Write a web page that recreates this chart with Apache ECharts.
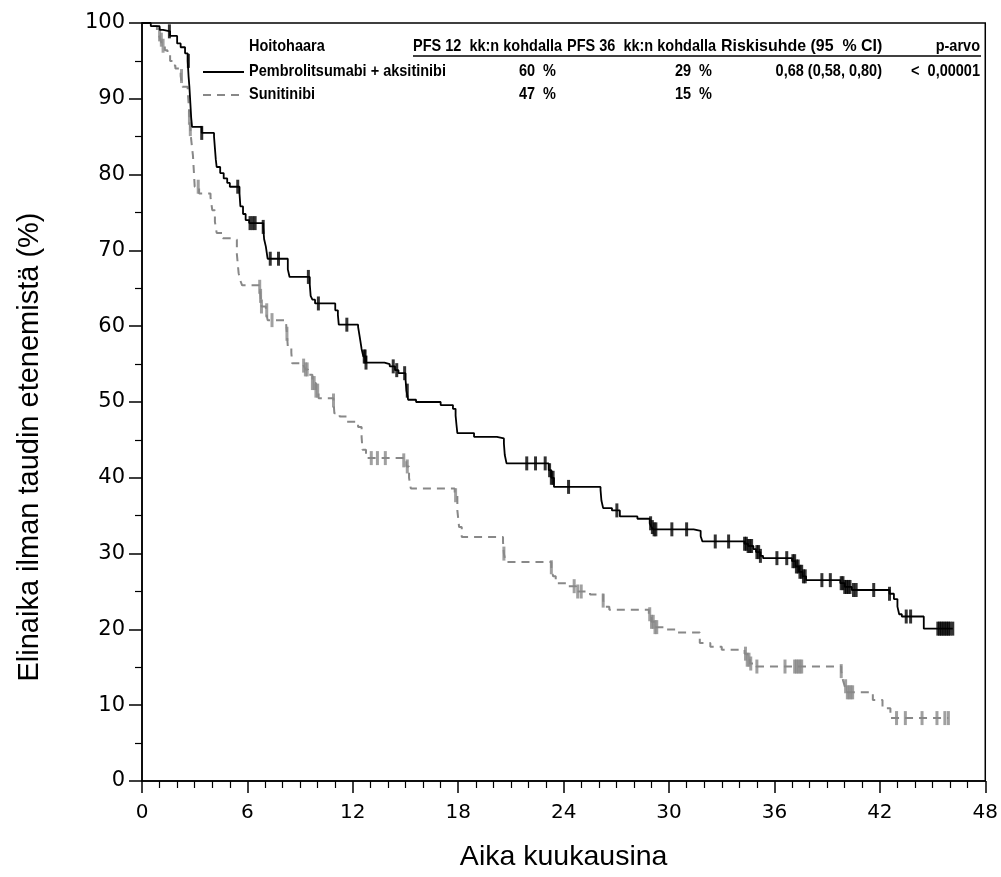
<!DOCTYPE html>
<html><head><meta charset="utf-8">
<script src="https://cdn.jsdelivr.net/npm/echarts@6/dist/echarts.min.js"></script>
<style>html,body{margin:0;padding:0;background:#fff}#c{width:1001px;height:877px}</style>
</head><body><div id="c"></div>
<script>
// ---- data ----
const xTickLabels = [0, 6, 12, 18, 24, 30, 36, 42, 48];
const yTickLabels = [0, 10, 20, 30, 40, 50, 60, 70, 80, 90, 100];

const pembroTimes = [0,0.5,1.0,1.2,1.6,2.0,2.2,2.45,2.6,2.65,2.7,2.75,2.8,2.85,3.4,4.1,4.15,4.2,4.25,4.45,4.65,4.85,5.0,5.55,5.6,5.75,5.9,6.1,6.9,6.95,7.05,7.15,8.3,8.4,9.55,9.6,9.7,9.85,11.0,11.15,11.2,12.3,12.4,12.5,12.6,12.75,13.8,14.1,14.4,14.6,15.0,15.05,15.15,15.6,17.0,17.7,17.85,17.9,17.95,18.9,20.2,20.6,20.65,20.75,23.15,23.3,23.45,26.1,26.15,26.25,26.75,27.2,28.2,28.9,29.0,29.1,31.4,31.8,31.9,34.3,34.5,34.8,34.95,35.2,35.35,37.0,37.2,37.4,37.6,37.8,39.75,40.0,40.4,42.55,42.8,43.0,43.1,43.25,44.5];
const pembroSurv  = [100,99.6,99.1,98.9,98.3,97.3,96.8,96.0,95.0,93.0,91.5,89.5,87.5,86.3,85.5,85.0,83.5,82.0,81.0,80.2,79.5,78.9,78.4,77.5,75.8,74.8,74.0,73.6,73.1,71.5,70.5,68.9,67.5,66.5,65.5,64.0,63.5,63.0,62.1,61.5,60.2,59.9,58.5,57.0,56.0,55.2,55.0,54.7,54.2,53.8,53.0,51.5,50.3,50.0,49.6,49.1,48.2,47.0,45.9,45.4,45.2,44.5,43.0,41.9,41.0,40.0,38.8,38.4,37.0,36.0,35.7,34.9,34.6,34.0,33.5,33.2,33.0,32.3,31.6,31.3,31.0,30.6,30.2,29.7,29.4,29.0,28.3,27.6,27.0,26.5,26.1,25.6,25.2,24.7,24.0,23.0,22.0,21.7,20.1];
const pembroCensor = [1.56,2.64,3.4,5.45,6.15,6.3,6.44,6.9,7.3,7.77,9.47,10.04,11.66,12.65,12.7,12.75,14.3,14.5,14.95,15.1,21.9,22.4,22.95,23.2,23.3,23.4,24.28,27.03,28.95,29.05,29.15,29.25,30.16,31.0,32.63,33.39,34.3,34.4,34.5,34.6,34.7,35.0,35.1,35.2,36.14,36.7,37.05,37.15,37.25,37.35,37.45,37.55,37.65,37.75,38.7,39.18,39.8,39.9,40.0,40.1,40.2,40.3,40.5,40.65,41.65,42.55,43.5,43.75,45.3,45.4,45.5,45.6,45.7,45.8,45.9,46.0,46.15];

const sunTimes = [0,0.5,0.85,0.95,1.05,1.15,1.3,1.45,1.6,1.75,1.9,2.2,2.3,2.6,2.65,2.7,2.75,2.8,2.9,2.95,3.0,3.25,3.9,4.0,4.15,4.25,4.6,5.2,5.4,5.5,5.6,5.7,6.7,6.75,6.8,7.05,7.15,8.2,8.25,8.3,8.5,8.55,9.2,9.3,9.45,9.7,9.9,10.05,10.9,10.95,11.25,11.65,12.3,12.5,12.55,12.75,14.9,15.05,15.2,15.3,17.8,17.95,18.05,18.2,20.55,20.6,20.7,23.3,23.4,23.55,24.25,24.7,25.5,26.25,26.35,26.6,28.85,29.0,29.15,29.8,30.4,31.75,32.35,33.0,34.3,34.45,34.6,34.95,39.8,39.9,40.0,40.1,41.6,42.15,42.6];
const sunSurv  = [100,99.6,99.0,98.5,97.8,97.0,96.4,95.8,95.0,94.4,94.0,93.0,91.6,91.0,89.5,87.5,86.0,84.6,82.5,80.5,78.4,77.5,77.0,75.3,73.8,72.3,71.6,71.4,69.5,67.0,66.0,65.4,65.2,64.0,62.6,62.1,60.8,60.4,59.0,57.3,56.5,55.1,54.8,54.3,53.6,52.5,51.5,50.5,50.2,48.5,48.1,47.4,46.7,45.4,43.7,42.6,42.3,41.5,40.0,38.6,37.7,35.7,33.5,32.2,31.5,30.0,28.9,28.2,27.0,26.1,25.7,25.0,24.6,23.8,23.0,22.6,22.0,21.0,20.3,20.0,19.6,18.2,17.7,17.3,16.8,16.0,15.5,15.1,14.5,13.3,12.5,11.7,10.7,9.6,8.3];
const sunCensor = [1.0,1.1,1.2,2.25,2.7,2.75,3.2,6.7,6.75,6.8,7.1,7.4,8.25,9.2,9.3,9.4,9.7,9.8,9.9,10.0,10.9,13.05,13.4,13.85,14.9,15.1,17.85,20.6,23.3,24.6,24.8,25.0,26.25,28.9,29.0,29.1,29.2,29.3,34.35,34.45,34.55,34.65,35.0,36.6,37.15,37.25,37.35,37.45,37.55,39.8,40.05,40.15,40.25,40.35,40.45,42.95,43.45,44.4,45.25,45.7,45.9];

const armNames = ['Pembrolitsumabi + aksitinibi', 'Sunitinibi'];
const tableHeaders = ['Hoitohaara', 'PFS 12  kk:n kohdalla', 'PFS 36  kk:n kohdalla', 'Riskisuhde (95  % CI)', 'p-arvo'];
const pfs12 = ['60  %', '47  %'];
const pfs36 = ['29  %', '15  %'];
const hazardRatio = ['0,68 (0,58, 0,80)', ''];
const pValue = ['<  0,00001', ''];
const xAxisTitle = 'Aika kuukausina';
const yAxisTitle = 'Elinaika ilman taudin etenemistä (%)';

// ---- helpers ----
function survAt(times, surv, t) {
  let v = surv[0];
  for (let i = 0; i < times.length; i++) { if (times[i] <= t) v = surv[i]; else break; }
  return v;
}
function curve(times, surv, censor) {
  const d = times.map((t, i) => [t, surv[i]]);
  const last = Math.max(...censor);
  if (last > times[times.length - 1]) d.push([last, surv[surv.length - 1]]);
  return d;
}
function ticks(times, surv, censor) {
  return censor.map(t => [t, survAt(times, surv, t)]);
}

const chart = echarts.init(document.getElementById('c'), null, {renderer: 'canvas'});
const tf = 'bold 14.5px "Liberation Sans", Arial, sans-serif';
function txt(text, x, y, align, sx) {
  return {type: 'text', x: x, y: y, scaleY: 1.12, scaleX: sx || 1, silent: true,
    style: {text: text, font: tf, fill: '#000', textAlign: align, textVerticalAlign: 'middle'}};
}
const hy = 47, r1 = 72, r2 = 95;
const graphics = [
  txt(tableHeaders[0], 249, hy, 'left'),
  txt(tableHeaders[1], 413, hy, 'left'),
  txt(tableHeaders[2], 567, hy, 'left'),
  txt(tableHeaders[3], 721, hy, 'left', 1.1),
  txt(tableHeaders[4], 980, hy, 'right'),
  {type: 'line', silent: true, shape: {x1: 413, y1: 56, x2: 981, y2: 56}, style: {stroke: '#000', lineWidth: 1.5}},
  {type: 'line', silent: true, shape: {x1: 203, y1: r1, x2: 244, y2: r1}, style: {stroke: '#000', lineWidth: 1.8}},
  {type: 'line', silent: true, shape: {x1: 203, y1: r2, x2: 244, y2: r2}, style: {stroke: '#888', lineWidth: 1.8, lineDash: [8, 6]}},
  txt(armNames[0], 249, r1, 'left'),
  txt(armNames[1], 249, r2, 'left'),
  txt(pfs12[0], 556, r1, 'right'),
  txt(pfs12[1], 556, r2, 'right'),
  txt(pfs36[0], 712, r1, 'right'),
  txt(pfs36[1], 712, r2, 'right'),
  txt(hazardRatio[0], 882, r1, 'right'),
  txt(pValue[0], 980, r1, 'right'),
  {type: 'text', x: 30, y: 447, rotation: Math.PI / 2, silent: true,
   style: {text: yAxisTitle, font: '29px "Liberation Sans", Arial, sans-serif', fill: '#000', textAlign: 'center', textVerticalAlign: 'middle'}}
];

chart.setOption({
  animation: false,
  backgroundColor: '#fff',
  grid: {left: 142, right: 15, top: 23, bottom: 96, show: true, borderColor: '#000', borderWidth: 1.5, backgroundColor: 'transparent'},
  xAxis: {
    type: 'value', min: 0, max: 48, interval: 6,
    name: xAxisTitle, nameLocation: 'middle', nameGap: 62,
    nameTextStyle: {fontFamily: '"Liberation Sans", Arial, sans-serif', fontSize: 28.5, color: '#000'},
    axisLine: {show: true, lineStyle: {color: '#000', width: 1.5}},
    axisTick: {show: true, length: 12, lineStyle: {color: '#000', width: 1.5}},
    minorTick: {show: true, splitNumber: 6, length: 7, lineStyle: {color: '#000', width: 1.2}},
    splitLine: {show: false},
    axisLabel: {margin: 22, fontFamily: '"DejaVu Sans", sans-serif', fontSize: 20, color: '#000',
      formatter: v => xTickLabels.includes(v) ? String(v) : ''}
  },
  yAxis: {
    type: 'value', min: 0, max: 100, interval: 10,
    axisLine: {show: true, lineStyle: {color: '#000', width: 1.5}},
    axisTick: {show: true, length: 13, lineStyle: {color: '#000', width: 1.5}},
    minorTick: {show: true, splitNumber: 2, length: 7, lineStyle: {color: '#000', width: 1.2}},
    splitLine: {show: false},
    axisLabel: {margin: 17, fontFamily: '"DejaVu Sans", sans-serif', fontSize: 21, color: '#000',
      formatter: v => yTickLabels.includes(v) ? String(v) : ''}
  },
  graphic: graphics,
  series: [
    {name: armNames[1], type: 'line', step: 'end', symbol: 'none', z: 2,
     data: curve(sunTimes, sunSurv, sunCensor),
     lineStyle: {color: '#888', width: 2, type: [8, 6]}},
    {name: armNames[1] + ' sensuroitu', type: 'scatter', symbol: 'rect', symbolSize: [3, 14], z: 3,
     data: ticks(sunTimes, sunSurv, sunCensor), itemStyle: {color: '#888'}},
    {name: armNames[0], type: 'line', step: 'end', symbol: 'none', z: 4,
     data: curve(pembroTimes, pembroSurv, pembroCensor),
     lineStyle: {color: '#000', width: 1.8}},
    {name: armNames[0] + ' sensuroitu', type: 'scatter', symbol: 'rect', symbolSize: [3, 14], z: 5,
     data: ticks(pembroTimes, pembroSurv, pembroCensor), itemStyle: {color: '#000'}}
  ]
});
</script></body></html>
